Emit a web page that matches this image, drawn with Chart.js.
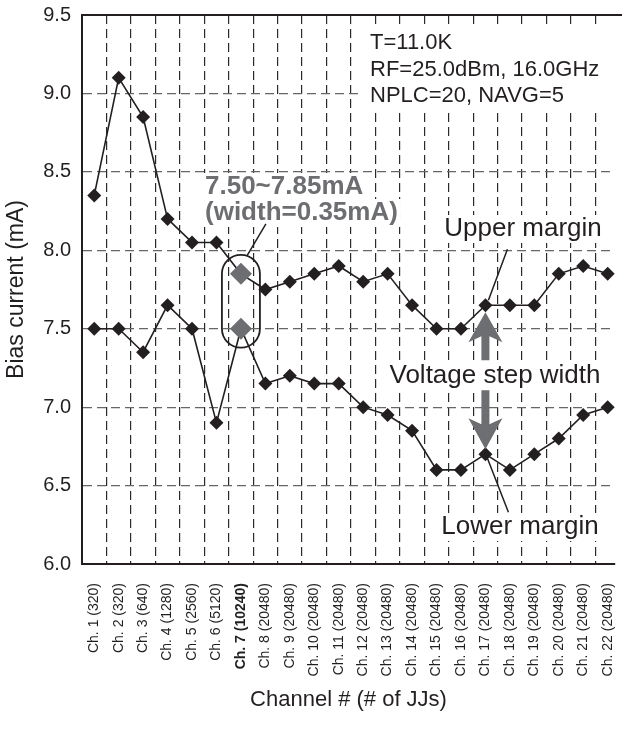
<!DOCTYPE html>
<html>
<head>
<meta charset="utf-8">
<script src="https://cdn.jsdelivr.net/npm/chart.js@4.4.1/dist/chart.umd.min.js"></script>
<style>
  html, body { margin: 0; padding: 0; background: #fff; overflow: hidden; }
  canvas { display: block; }
</style>
</head>
<body>
<canvas id="myChart" width="622" height="736"></canvas>
<script>
const channels = ['Ch. 1 (320)', 'Ch. 2 (320)', 'Ch. 3 (640)', 'Ch. 4 (1280)', 'Ch. 5 (2560)', 'Ch. 6 (5120)',
    'Ch. 7 (10240)', 'Ch. 8 (20480)', 'Ch. 9 (20480)', 'Ch. 10 (20480)', 'Ch. 11 (20480)', 'Ch. 12 (20480)',
    'Ch. 13 (20480)', 'Ch. 14 (20480)', 'Ch. 15 (20480)', 'Ch. 16 (20480)', 'Ch. 17 (20480)', 'Ch. 18 (20480)',
    'Ch. 19 (20480)', 'Ch. 20 (20480)', 'Ch. 21 (20480)', 'Ch. 22 (20480)'];
const upperMargin = [8.35, 9.1, 8.85, 8.2, 8.05, 8.05, 7.85, 7.75, 7.8, 7.85, 7.9, 7.8, 7.85, 7.65, 7.5, 7.5, 7.65, 7.65, 7.65, 7.85, 7.9, 7.85];
const lowerMargin = [7.5, 7.5, 7.35, 7.65, 7.5, 6.9, 7.5, 7.15, 7.2, 7.15, 7.15, 7.0, 6.95, 6.85, 6.6, 6.6, 6.7, 6.6, 6.7, 6.8, 6.95, 7.0];
const yTicks = [6.0, 6.5, 7.0, 7.5, 8.0, 8.5, 9.0, 9.5];
const conditions = ['T=11.0K', 'RF=25.0dBm, 16.0GHz', 'NPLC=20, NAVG=5'];
const highlight = 6;     // Ch. 7
const arrowChannel = 16; // Ch. 17

const FONT = "'Liberation Sans', Arial, Helvetica, sans-serif";
const INK = '#231f20';
const GREY = '#6d6e71';

// channel n sits at x = n, the frame is cut at the right like the original figure
const xMin = 0.5;
const xMax = 22.3;

const pointColor = (c) => c.dataIndex === highlight ? GREY : INK;
const pointSize = (c) => c.dataIndex === highlight ? 11 : 7;

const makeSet = (label, values) => ({
    label: label,
    data: values.map((v, i) => ({ x: i + 1, y: v })),
    borderColor: INK,
    borderWidth: 1.6,
    tension: 0,
    pointStyle: 'rectRot',
    pointRadius: pointSize,
    pointBackgroundColor: pointColor,
    pointBorderColor: pointColor,
    pointBorderWidth: 0
});

const textBox = (ctx, text, x, y, align) => {
    const w = ctx.measureText(text).width;
    const left = align === 'left' ? x : x - w / 2;
    ctx.fillStyle = '#fff';
    ctx.fillRect(left - 3, y - 14, w + 6, 28);
};

const annotations = {
    id: 'annotations',
    beforeDatasetsDraw(chart) {
        const ctx = chart.ctx;
        ctx.save();
        ctx.fillStyle = '#fff';
        ctx.fillRect(360, 27, 252, 82);
        ctx.font = 'bold 26px ' + FONT;
        textBox(ctx, '7.50~7.85mA', 205, 187, 'left');
        textBox(ctx, '(width=0.35mA)', 205, 213, 'left');
        ctx.font = '26px ' + FONT;
        textBox(ctx, 'Upper margin', 523, 229, 'center');
        textBox(ctx, 'Voltage step width', 495, 376, 'center');
        textBox(ctx, 'Lower margin', 520, 527, 'center');
        ctx.restore();
    },
    afterDatasetsDraw(chart) {
        const ctx = chart.ctx;
        const {x, y} = chart.scales;
        const area = chart.chartArea;
        ctx.save();

        // frame top line
        ctx.strokeStyle = INK;
        ctx.lineWidth = 2;
        ctx.beginPath();
        ctx.moveTo(area.left - 1, area.top);
        ctx.lineTo(chart.width, area.top);
        ctx.stroke();

        // conditions
        ctx.fillStyle = INK;
        ctx.font = '22px ' + FONT;
        ctx.textAlign = 'left';
        ctx.textBaseline = 'middle';
        conditions.forEach((t, i) => ctx.fillText(t, 370, 43 + i * 26.5));

        // stadium round Ch. 7
        const cx = x.getPixelForValue(highlight + 1);
        const yTop = y.getPixelForValue(upperMargin[highlight]);
        const yBot = y.getPixelForValue(lowerMargin[highlight]);
        const r = 19;
        ctx.lineWidth = 1.8;
        ctx.beginPath();
        ctx.arc(cx, yTop, r, Math.PI, 0);
        ctx.lineTo(cx + r, yBot);
        ctx.arc(cx, yBot, r, 0, Math.PI);
        ctx.closePath();
        ctx.stroke();

        ctx.lineWidth = 1.5;
        ctx.beginPath();
        ctx.moveTo(cx + 6, yTop - r + 1);
        ctx.lineTo(cx + 25, yTop - r - 31);
        ctx.stroke();

        ctx.fillStyle = GREY;
        ctx.font = 'bold 26px ' + FONT;
        ctx.fillText('7.50~7.85mA', 205, 187);
        ctx.fillText('(width=0.35mA)', 205, 213);

        // margin labels
        const ax = x.getPixelForValue(arrowChannel + 1);
        const up = y.getPixelForValue(upperMargin[arrowChannel]);
        const lo = y.getPixelForValue(lowerMargin[arrowChannel]);
        ctx.strokeStyle = INK;
        ctx.beginPath();
        ctx.moveTo(ax + 3, up - 5);
        ctx.lineTo(ax + 22, up - 56);
        ctx.moveTo(ax + 2, lo + 4);
        ctx.lineTo(ax + 23, lo + 58);
        ctx.stroke();

        ctx.fillStyle = INK;
        ctx.font = '26px ' + FONT;
        ctx.textAlign = 'center';
        ctx.fillText('Upper margin', 523, 229);
        ctx.fillText('Voltage step width', 495, 376);
        ctx.fillText('Lower margin', 520, 527);

        // arrows
        const arrow = (tip, base, end, dir) => {
            ctx.beginPath();
            ctx.moveTo(ax, tip);
            ctx.lineTo(ax + 17, base);
            ctx.lineTo(ax + 4, base - dir * 6);
            ctx.lineTo(ax + 4, end);
            ctx.lineTo(ax - 4, end);
            ctx.lineTo(ax - 4, base - dir * 6);
            ctx.lineTo(ax - 17, base);
            ctx.closePath();
            ctx.fill();
        };
        ctx.fillStyle = GREY;
        arrow(up + 7, up + 37, up + 55, 1);
        arrow(lo - 5, lo - 36, lo - 64, -1);

        ctx.restore();
    }
};

const ctx = document.getElementById('myChart').getContext('2d');
const myChart = new Chart(ctx, {
    type: 'line',
    data: {
        datasets: [makeSet('Upper margin', upperMargin), makeSet('Lower margin', lowerMargin)]
    },
    options: {
        responsive: false,
        animation: false,
        layout: { padding: { top: 15, right: 0, left: 0, bottom: 0 } },
        plugins: { legend: { display: false }, tooltip: { enabled: false } },
        scales: {
            x: {
                type: 'linear',
                min: xMin,
                max: xMax,
                afterBuildTicks: (scale) => { scale.ticks = channels.map((_, i) => ({ value: i + 1 })); },
                grid: { offset: true, color: '#2a2a2a', lineWidth: 1.2, drawTicks: false },
                border: { color: INK, width: 2, dash: [9, 5] },
                ticks: {
                    autoSkip: false,
                    minRotation: 90,
                    maxRotation: 90,
                    padding: 19,
                    color: INK,
                    callback: (v) => channels[Math.round(v) - 1],
                    font: (c) => ({ family: FONT, size: 14, weight: c.index === highlight ? 'bold' : 'normal' })
                },
                title: {
                    display: true,
                    text: 'Channel # (# of JJs)',
                    color: INK,
                    font: { family: FONT, size: 22 },
                    padding: { top: 0, bottom: 23 }
                },
                afterFit: (scale) => {
                    scale.height = 172;
                    scale.paddingLeft = 0;
                    scale.paddingRight = 0;
                }
            },
            y: {
                min: 6,
                max: 9.5,
                afterBuildTicks: (scale) => { scale.ticks = yTicks.map(v => ({ value: v })); },
                grid: { color: '#666', lineWidth: 1.2, drawTicks: false },
                border: { color: INK, width: 2, dash: [9, 5] },
                ticks: {
                    padding: 11,
                    color: INK,
                    font: { family: FONT, size: 20 },
                    callback: (v) => Number(v).toFixed(1)
                },
                title: {
                    display: true,
                    text: 'Bias current (mA)',
                    color: INK,
                    font: { family: FONT, size: 23 },
                    padding: { top: 3, bottom: 0 }
                },
                afterFit: (scale) => {
                    scale.width = 82;
                    scale.paddingTop = 0;
                    scale.paddingBottom = 0;
                }
            }
        }
    },
    plugins: [annotations]
});
</script>
</body>
</html>
